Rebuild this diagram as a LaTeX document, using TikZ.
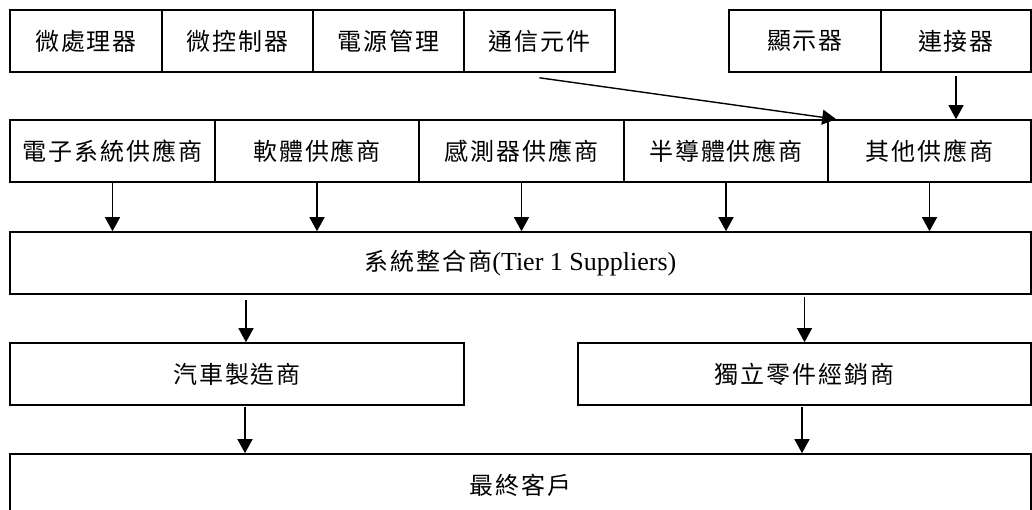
\documentclass[tikz,border=0pt]{standalone}
\usepackage{fontspec}
\setmainfont{Liberation Serif}
\newfontfamily\cjk[LetterSpace=8]{Noto Sans CJK TC}
\usetikzlibrary{arrows.meta}

\tikzset{
  cell/.style={draw, line width=1.6pt, minimum height=62pt, inner sep=0pt,
    font=\fontsize{24pt}{28pt}\selectfont\cjk},
  arr/.style={line width=1.4pt, -{Triangle[length=14pt,width=15pt]}}
}

\begin{document}
\begin{tikzpicture}[x=1pt,y=-1pt]
\useasboundingbox (0,0) rectangle (1032,510);

% components
\node[cell, minimum width=152pt] (mpu) at (86,41) {微處理器};
\node[cell, minimum width=151pt] (mcu) at (237.5,41) {微控制器};
\node[cell, minimum width=151pt] (pwr) at (388.5,41) {電源管理};
\node[cell, minimum width=151pt] (com) at (539.5,41) {通信元件};
\node[cell, minimum width=152pt] (disp) at (805,41) {顯示器};
\node[cell, minimum width=150pt] (conn) at (956,41) {連接器};

% suppliers
\node[cell, minimum width=205pt] (elec) at (112.5,151) {電子系統供應商};
\node[cell, minimum width=204pt] (soft) at (317,151) {軟體供應商};
\node[cell, minimum width=205pt] (sens) at (521.5,151) {感測器供應商};
\node[cell, minimum width=204pt] (semi) at (726,151) {半導體供應商};
\node[cell, minimum width=203pt] (other) at (929.5,151) {其他供應商};

\node[cell, minimum width=1021pt] (tier) at (520.5,263)
  {系統整合商{\fontsize{26pt}{28pt}\rmfamily(Tier 1 Suppliers)}};

\node[cell, minimum width=454pt] (car) at (237,374) {汽車製造商};
\node[cell, minimum width=453pt] (dist) at (804.5,374) {獨立零件經銷商};
\node[cell, minimum width=1021pt] (user) at (520.5,485) {最終客戶};

% arrows
\draw[arr] ([yshift=-5pt]com.south) -- ([xshift=9pt]other.north west);
\draw[arr] ([yshift=-3pt]conn.south) -- (conn.south |- other.north);
\foreach \s in {elec,soft,sens,semi,other}
  \draw[arr] (\s.south) -- (\s.south |- tier.north);

\coordinate (c1) at ([xshift=9pt]car.north);
\draw[arr] (c1 |- tier.south) ++(0,5) -- (c1);
\draw[arr] (dist.north |- tier.south) ++(0,2) -- (dist.north);
\coordinate (c2) at ([xshift=8pt]car.south);
\draw[arr] (c2) ++(0,1) -- (c2 |- user.north);
\coordinate (c3) at ([xshift=-2.5pt]dist.south);
\draw[arr] (c3) ++(0,1) -- (c3 |- user.north);
\end{tikzpicture}
\end{document}
